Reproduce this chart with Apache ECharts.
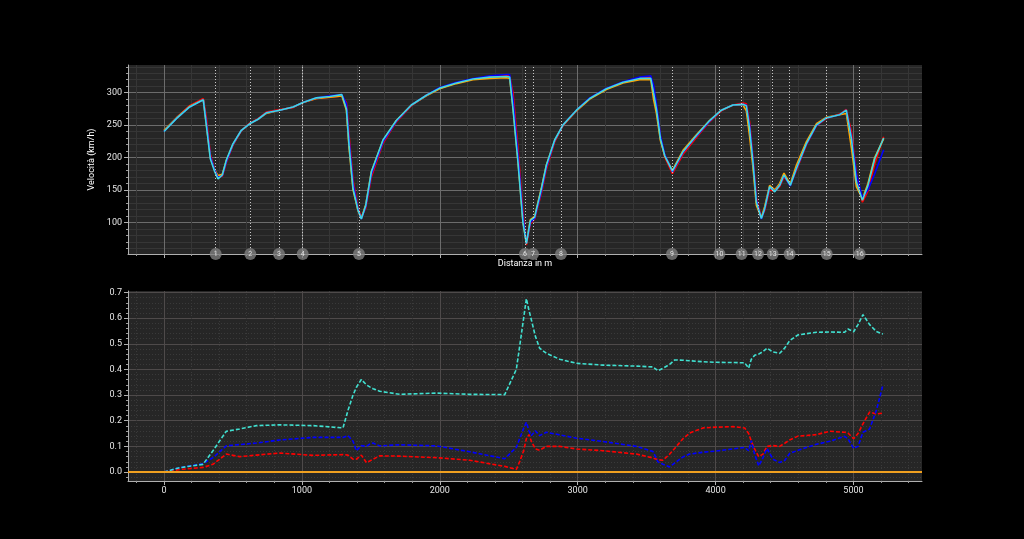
<!DOCTYPE html>
<html>
<head>
<meta charset="utf-8">
<script src="https://cdn.jsdelivr.net/npm/echarts@6.0.0/dist/echarts.min.js"></script>
<style>
    html, body { margin: 0; padding: 0; background: #000; }
    #main { width: 1024px; height: 539px; }
</style>
</head>
<body>
<div id="main"></div>
<script>
var distance = [0, 90, 186, 285, 307, 336, 368, 392, 423, 452,
    500, 561, 621, 682, 742, 839, 936, 1008, 1105, 1202,
    1290, 1323, 1342, 1371, 1407, 1431, 1463, 1504, 1588, 1685,
    1794, 1903, 1999, 2120, 2241, 2362, 2483, 2507, 2531, 2567,
    2603, 2628, 2657, 2688, 2737, 2773, 2833, 2893, 2991, 3087,
    3208, 3329, 3450, 3530, 3550, 3571, 3600, 3631, 3687, 3764,
    3861, 3957, 4042, 4126, 4199, 4223, 4247, 4271, 4296, 4332,
    4356, 4392, 4429, 4465, 4496, 4542, 4586, 4658, 4731, 4803,
    4900, 4948, 4985, 5021, 5065, 5105, 5154, 5219];

var speedRed = [241, 261, 280, 291, 262, 205, 180, 170, 171, 192,
    219, 241, 253, 260, 270, 274, 277, 285, 291, 293,
    295, 285, 235, 165, 122, 108, 122, 170, 222, 255,
    280, 296, 307, 315, 321, 325, 326, 326, 300, 215,
    115, 65, 98, 105, 145, 182, 224, 249, 272, 291,
    306, 316, 323, 324, 305, 278, 232, 201, 175, 205,
    231, 255, 272, 281, 284, 283, 255, 200, 138, 107,
    118, 150, 148, 155, 170, 158, 180, 219, 249, 260,
    267, 274, 240, 175, 131, 148, 190, 232];

var speedOrange = [242, 261, 279, 289, 252, 200, 181, 172, 174, 195,
    220, 242, 252, 259, 268, 273, 278, 285, 291, 293,
    295, 273, 215, 150, 118, 106, 127, 178, 226, 257,
    281, 295, 306, 314, 320, 322, 323, 322, 278, 195,
    102, 68, 104, 109, 153, 188, 226, 250, 272, 290,
    305, 315, 320, 320, 290, 268, 226, 203, 180, 211,
    235, 257, 273, 281, 281, 272, 232, 185, 126, 107,
    124, 157, 150, 160, 176, 159, 188, 224, 252, 262,
    266, 268, 215, 155, 136, 160, 200, 229];

var speedBlue = [240, 260, 278, 289, 255, 202, 180, 169, 172, 193,
    220, 242, 252, 259, 269, 273, 278, 285, 292, 295,
    297, 283, 228, 160, 120, 105, 124, 174, 224, 256,
    281, 296, 308, 316, 322, 326, 328, 328, 290, 205,
    108, 68, 100, 106, 148, 185, 226, 250, 273, 292,
    307, 317, 324, 326, 312, 284, 234, 205, 178, 208,
    233, 256, 273, 281, 282, 281, 250, 198, 135, 105,
    120, 154, 148, 157, 172, 156, 182, 220, 249, 261,
    266, 273, 232, 175, 138, 150, 175, 212];

var speedCyan = [240, 260, 278, 289, 250, 198, 178, 167, 173, 196,
    221, 242, 252, 259, 269, 273, 278, 285, 292, 294,
    297, 275, 219, 152, 119, 105, 126, 178, 227, 257,
    281, 296, 307, 315, 321, 324, 325, 324, 275, 193,
    100, 67, 103, 108, 152, 188, 227, 250, 273, 291,
    306, 316, 322, 322, 300, 275, 229, 203, 179, 209,
    234, 257, 273, 281, 282, 280, 244, 193, 131, 106,
    121, 155, 147, 157, 173, 157, 183, 221, 250, 261,
    266, 273, 229, 162, 134, 157, 198, 230];

// distacchi (s) sul grafico in basso
var gapDistance = [0, 114, 283, 355, 452, 549, 670, 839, 1081, 1298,
    1334, 1371, 1395, 1431, 1468, 1492, 1516, 1564, 1709, 1975,
    2217, 2471, 2555, 2579, 2608, 2628, 2647, 2664, 2693, 2724,
    2773, 2869, 2991, 3184, 3426, 3546, 3582, 3619, 3667, 3703,
    3764, 3812, 3909, 4006, 4126, 4211, 4240, 4259, 4283, 4313,
    4344, 4373, 4416, 4465, 4501, 4537, 4598, 4731, 4827, 4936,
    4960, 5001, 5033, 5069, 5117, 5166, 5214];

var gapCyan = [0, 0.017, 0.03, 0.083, 0.159, 0.168, 0.181, 0.184, 0.181, 0.172,
    0.24, 0.30, 0.33, 0.361, 0.34, 0.332, 0.325, 0.315, 0.303, 0.308,
    0.303, 0.302, 0.40, 0.489, 0.60, 0.676, 0.63, 0.594, 0.53, 0.483,
    0.463, 0.44, 0.424, 0.417, 0.413, 0.41, 0.395, 0.405, 0.42, 0.437,
    0.436, 0.434, 0.43, 0.428, 0.427, 0.426, 0.405, 0.44, 0.455, 0.46,
    0.47, 0.483, 0.468, 0.463, 0.483, 0.512, 0.535, 0.545, 0.546, 0.545,
    0.558, 0.547, 0.575, 0.614, 0.575, 0.548, 0.538];

var gapBlue = [0, 0.017, 0.033, 0.056, 0.102, 0.107, 0.113, 0.125, 0.135, 0.135,
    0.142, 0.12, 0.083, 0.103, 0.1, 0.109, 0.113, 0.102, 0.106, 0.102,
    0.079, 0.052, 0.096, 0.13, 0.17, 0.194, 0.16, 0.142, 0.161, 0.142,
    0.155, 0.145, 0.132, 0.119, 0.1, 0.08, 0.04, 0.03, 0.02, 0.035,
    0.059, 0.07, 0.077, 0.082, 0.09, 0.096, 0.083, 0.122, 0.07, 0.024,
    0.056, 0.092, 0.05, 0.037, 0.045, 0.072, 0.085, 0.108, 0.12, 0.139,
    0.13, 0.092, 0.1, 0.155, 0.168, 0.24, 0.34];

var gapRed = [0, 0.01, 0.018, 0.03, 0.07, 0.06, 0.066, 0.074, 0.065, 0.068,
    0.066, 0.05, 0.05, 0.066, 0.037, 0.043, 0.05, 0.063, 0.062, 0.056,
    0.046, 0.022, 0.01, 0.04, 0.083, 0.13, 0.146, 0.12, 0.09, 0.085,
    0.1, 0.1, 0.09, 0.083, 0.07, 0.055, 0.048, 0.046, 0.07, 0.092,
    0.13, 0.152, 0.172, 0.175, 0.177, 0.172, 0.15, 0.12, 0.09, 0.06,
    0.07, 0.1, 0.103, 0.1, 0.112, 0.125, 0.14, 0.146, 0.159, 0.155,
    0.152, 0.13, 0.15, 0.188, 0.234, 0.226, 0.23];

var refGap = 0;

// curve
var corners = [375, 626, 834, 1006, 1414, 2618, 2676, 2879, 3684, 4028,
    4189, 4308, 4414, 4537, 4806, 5045];
var cornerNames = ['1', '2', '3', '4', '5', '6', '7', '8', '9', '10',
    '11', '12', '13', '14', '15', '16'];

// etichette assi
var distTicks = [0, 1000, 2000, 3000, 4000, 5000];
var speedTicks = [100, 150, 200, 250, 300];
var gapTicks = [0, 0.1, 0.2, 0.3, 0.4, 0.5, 0.6, 0.7];

var xMin = -261, xMax = 5497;
var speedMin = 51.1, speedMax = 342.7;
var gapMin = -0.035, gapMax = 0.706;

var minorTicks = function (from, to, step, majors) {
    var out = [];
    var n = Math.round((to - from) / step);
    for (var i = 0; i <= n; i++) {
        var v = +(from + i * step).toFixed(4);
        if (majors.indexOf(v) < 0) out.push(v);
    }
    return out;
};

var pairs = function (xs, ys) {
    return xs.map(function (x, i) { return [x, ys[i]]; });
};

var labelStyle = { color: '#e6e6e6', fontSize: 9, fontFamily: 'Roboto' };

var majorAxis = function (dim, grid, min, max, ticks, gridColor, showLabel, fmt) {
    var ax = {
        type: 'value', gridIndex: grid, min: min, max: max,
        position: dim === 'x' ? 'bottom' : 'left',
        axisLine: { show: true, onZero: false, lineStyle: { color: '#b0b0b0', width: 1 } },
        axisTick: { show: true, customValues: ticks, length: 4, lineStyle: { color: '#b0b0b0' } },
        axisLabel: { show: showLabel, customValues: ticks, margin: dim === 'x' ? 5 : 6, formatter: fmt },
        splitLine: { show: true, lineStyle: { color: gridColor, width: 1 } }
    };
    for (var k in labelStyle) ax.axisLabel[k] = labelStyle[k];
    return ax;
};

var minorAxis = function (dim, grid, min, max, ticks, gridColor, dashed) {
    return {
        type: 'value', gridIndex: grid, min: min, max: max,
        position: dim === 'x' ? 'bottom' : 'left',
        axisLine: { show: false, onZero: false },
        axisTick: { show: true, customValues: ticks, length: 2, lineStyle: { color: '#9a9a9a' } },
        axisLabel: { show: false },
        splitLine: { show: true, lineStyle: { color: gridColor, width: 1, type: dashed ? [1, 2] : 'solid' } }
    };
};

var chart = echarts.init(document.getElementById('main'));

var xTopMajor = majorAxis('x', 0, xMin, xMax, distTicks, '#6c6c6c', false);
xTopMajor.name = 'Distanza in m';
xTopMajor.nameLocation = 'middle';
xTopMajor.nameGap = 5;
xTopMajor.nameTextStyle = { color: '#ffffff', fontSize: 9, fontFamily: 'Roboto' };

var yTopMajor = majorAxis('y', 0, speedMin, speedMax, speedTicks, '#6c6c6c', true);
yTopMajor.name = 'Velocità (km/h)';
yTopMajor.nameLocation = 'middle';
yTopMajor.nameGap = 27;
yTopMajor.nameTextStyle = { color: '#ffffff', fontSize: 9, fontFamily: 'Roboto' };

var lineSeries = function (name, color, xs, ys, xi, yi, dashed) {
    return {
        name: name, type: 'line', xAxisIndex: xi, yAxisIndex: yi,
        data: pairs(xs, ys), showSymbol: false, silent: true,
        lineStyle: { color: color, width: 1.6, type: dashed ? [4, 2] : 'solid' }
    };
};

var redTop = lineSeries('Rosso', '#ff0000', distance, speedRed, 1, 1);
redTop.markLine = {
    silent: true, symbol: ['none', 'none'], label: { show: false },
    lineStyle: { color: '#c8c8c8', width: 1, type: [1, 2] },
    data: corners.map(function (d) { return { xAxis: d }; })
};

var zeroLine = lineSeries('Riferimento', '#f0a020', gapDistance.slice(0, 2), [refGap, refGap], 3, 3);
zeroLine.markLine = {
    silent: true, symbol: ['none', 'none'], label: { show: false },
    lineStyle: { color: '#f0a020', width: 2, type: 'solid' },
    data: [{ yAxis: refGap }]
};
zeroLine.lineStyle.opacity = 0;

var xBottomMajor = majorAxis('x', 1, xMin, xMax, distTicks, '#4e4a4a', true, function (v) { return String(v); });

var option = {
    backgroundColor: '#000000',
    animation: false,
    grid: [
        { left: 128, right: 102, top: 65, height: 189, show: true, backgroundColor: '#262626', borderWidth: 0 },
        { left: 128, right: 102, top: 291, height: 190, show: true, backgroundColor: '#262626', borderWidth: 0 }
    ],
    xAxis: [
        minorAxis('x', 0, xMin, xMax, minorTicks(-200, 5400, 200, distTicks), '#363636', false),
        xTopMajor,
        minorAxis('x', 1, xMin, xMax, minorTicks(-200, 5400, 200, distTicks), '#3a3a3a', true),
        xBottomMajor
    ],
    yAxis: [
        minorAxis('y', 0, speedMin, speedMax, minorTicks(60, 340, 10, speedTicks), '#363636', false),
        yTopMajor,
        minorAxis('y', 1, gapMin, gapMax, minorTicks(-0.02, 0.7, 0.02, gapTicks), '#3a3a3a', true),
        majorAxis('y', 1, gapMin, gapMax, gapTicks, '#4e4a4a', true, function (v) { return v.toFixed(1); })
    ],
    series: [
        redTop,
        lineSeries('Arancio', '#ffa500', distance, speedOrange, 1, 1),
        lineSeries('Blu', '#0000ff', distance, speedBlue, 1, 1),
        lineSeries('Ciano', '#40d8e0', distance, speedCyan, 1, 1),
        {
            name: 'Curve', type: 'scatter', xAxisIndex: 1, yAxisIndex: 1, clip: false, silent: true,
            symbolSize: 12, z: 5,
            itemStyle: { color: '#808080' },
            label: {
                show: true, position: 'inside', color: '#ffffff', fontSize: 7, fontFamily: 'Roboto',
                formatter: function (p) { return cornerNames[p.dataIndex]; }
            },
            data: corners.map(function (d) { return [d, speedMin]; })
        },
        zeroLine,
        lineSeries('Gap Rosso', '#ff0000', gapDistance, gapRed, 3, 3, true),
        lineSeries('Gap Blu', '#0000ff', gapDistance, gapBlue, 3, 3, true),
        lineSeries('Gap Ciano', '#40e0d0', gapDistance, gapCyan, 3, 3, true)
    ]
};

chart.setOption(option);
</script>
</body>
</html>
